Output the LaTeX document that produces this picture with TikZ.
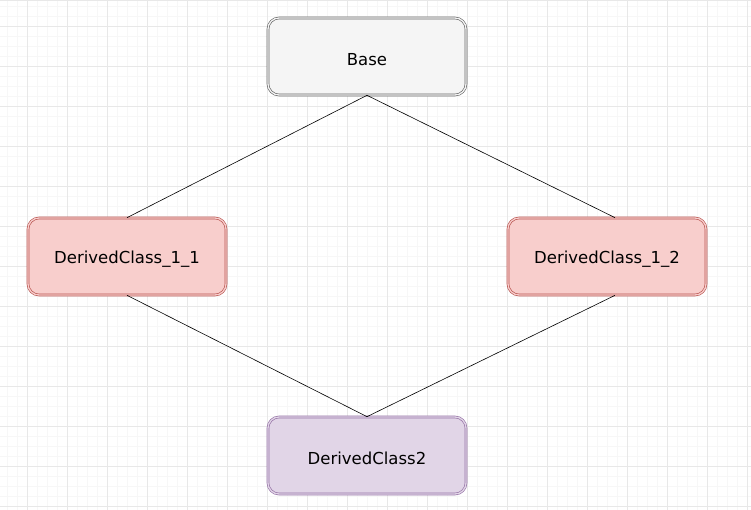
\documentclass[tikz,border=0pt]{standalone}
\usepackage{fontspec}
\setmainfont{DejaVu Sans}
\definecolor{gridmajor}{HTML}{E8E8E8}
\definecolor{gridminor}{HTML}{F7F7F7}
\definecolor{basefill}{HTML}{F5F5F5}
\definecolor{basedraw}{HTML}{666666}
\definecolor{redfill}{HTML}{F8CECC}
\definecolor{reddraw}{HTML}{B85450}
\definecolor{purpfill}{HTML}{E1D5E7}
\definecolor{purpdraw}{HTML}{9673A6}
\newcommand{\lowtext}[1]{\raisebox{-3pt}[\height][\depth]{#1}}
\tikzset{
  classbox/.style={rectangle, rounded corners=11pt, minimum width=198pt, minimum height=77pt,
    line width=0.65pt, double distance=1.3pt, font=\fontsize{16.5}{18}\selectfont, text=black},
  basebox/.style={classbox, draw=basedraw, double=basefill, fill=basefill},
  redbox/.style={classbox, draw=reddraw, double=redfill, fill=redfill},
  purpbox/.style={classbox, draw=purpdraw, double=purpfill, fill=purpfill},
  link/.style={draw=black, line width=0.6pt}
}
\begin{document}
\begin{tikzpicture}[x=1pt, y=-1pt]
\useasboundingbox (0,0) rectangle (751,510);
\fill[white] (0,0) rectangle (751,510);
% minor grid
\foreach \i in {-3,7,...,751} \draw[gridminor, line width=0.6pt] (\i,0) -- (\i,510);
\foreach \j in {6,16,...,510} \draw[gridminor, line width=0.6pt] (0,\j) -- (751,\j);
% major grid
\foreach \i in {27,67,...,751} \draw[gridmajor, line width=0.9pt] (\i,0) -- (\i,510);
\foreach \j in {26,66,...,510} \draw[gridmajor, line width=0.9pt] (0,\j) -- (751,\j);
\draw[gridmajor, line width=2pt] (0,0) -- (751,0);

\node[basebox] (base) at (367,56.5) {\lowtext{Base}};
\node[redbox] (d11) at (127,256.5) {\lowtext{DerivedClass\_1\_1}};
\node[redbox] (d12) at (607,256.5) {\lowtext{DerivedClass\_1\_2}};
\node[purpbox] (d2) at (367,455.5) {\lowtext{DerivedClass2}};

\draw[link] (base.south) -- (d11.north);
\draw[link] (base.south) -- ([xshift=8pt]d12.north);
\draw[link] (d11.south) -- (d2.north);
\draw[link] ([xshift=8pt]d12.south) -- (d2.north);
\end{tikzpicture}
\end{document}
